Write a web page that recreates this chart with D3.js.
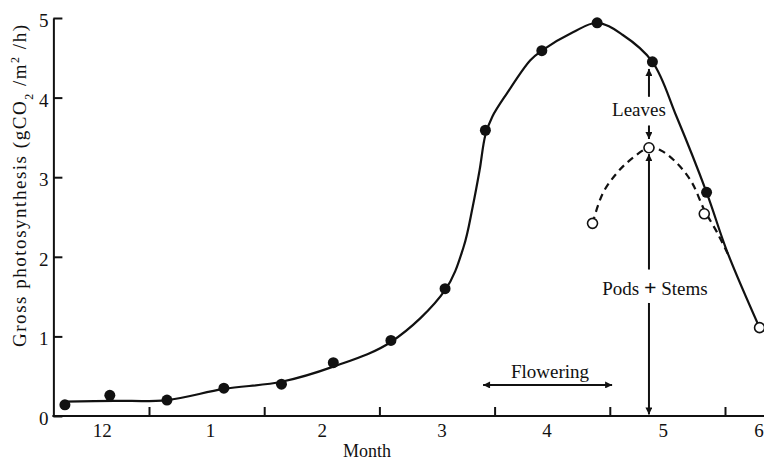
<!DOCTYPE html>
<html>
<head>
<meta charset="utf-8">
<script src="https://cdn.jsdelivr.net/npm/d3@7"></script>
<style>
  html, body { margin: 0; padding: 0; background: #fff; }
  svg { display: block; }
  text { font-family: "Liberation Serif", "DejaVu Serif", serif; fill: #111; }
</style>
</head>
<body>
<svg id="chart" width="764" height="463"></svg>
<script>
// ---- data (x in month units: 0 = boundary Dec/Jan, 1 = Jan/Feb, ...) ----
const monthBoundaries = [0, 1, 2, 3, 4, 5];
const monthLabels = ["12", "1", "2", "3", "4", "5", "6"];
const monthLabelPos = [-0.41, 0.53, 1.50, 2.54, 3.45, 4.46, 5.29];
const yTicks = [0, 1, 2, 3, 4, 5];

// whole-plant gross photosynthesis (filled points)
const totalT = [-0.73, -0.34, 0.156, 0.65, 1.15, 1.60, 2.10, 2.57, 2.92, 3.41, 3.89, 4.37, 4.84];
const totalV = [0.14, 0.26, 0.20, 0.35, 0.40, 0.67, 0.95, 1.60, 3.59, 4.59, 4.94, 4.45, 2.81];
// pods + stems (open points)
const podsT = [3.85, 4.34, 4.82, 5.30];
const podsV = [2.42, 3.37, 2.54, 1.11];

// fitted smooth curve, whole plant (solid)
const totalCurveT = [-0.73, -0.30, 0.156, 0.65, 1.15, 1.60, 2.10, 2.57, 2.73, 2.81, 2.87, 2.92, 2.98, 3.11, 3.31, 3.41, 3.68, 3.89, 4.11, 4.37, 4.58, 4.84, 5.02, 5.30];
const totalCurveV = [0.18, 0.19, 0.20, 0.34, 0.43, 0.62, 0.93, 1.58, 2.12, 2.63, 3.09, 3.53, 3.76, 4.06, 4.47, 4.59, 4.82, 4.94, 4.79, 4.45, 3.76, 2.81, 2.06, 1.11];
// fitted curve, pods + stems (dashed)
const podsCurveT = [3.85, 3.94, 4.06, 4.18, 4.34, 4.44, 4.58, 4.71, 4.82, 4.93, 5.03];
const podsCurveV = [2.42, 2.80, 3.05, 3.22, 3.37, 3.34, 3.18, 2.94, 2.59, 2.31, 2.02];

// ---- scales ----
const x = d3.scaleLinear().domain([0, 5]).range([149, 725]);
const y = d3.scaleLinear().domain([0, 5]).range([416, 18]);
const axisStartT = -0.83, axisEndT = 5.45;

const svg = d3.select("#chart");
const defs = svg.append("defs");
defs.append("marker")
  .attr("id", "arrow").attr("viewBox", "0 0 10 10")
  .attr("refX", 10).attr("refY", 5)
  .attr("markerWidth", 9).attr("markerHeight", 7)
  .attr("markerUnits", "userSpaceOnUse")
  .attr("orient", "auto-start-reverse")
  .append("path").attr("d", "M0,0 L10,5 L0,10 Z").attr("fill", "#111");

// ---- axes ----
const gx = svg.append("g").attr("transform", `translate(0,${y(0)})`)
  .call(d3.axisBottom(x).tickValues(monthBoundaries).tickSizeInner(-9).tickSizeOuter(0).tickFormat(""));
gx.select(".domain").remove();
gx.selectAll(".tick line").attr("stroke", "#111").attr("stroke-width", 2);

const gxl = svg.append("g").attr("transform", `translate(0,${y(0)})`)
  .call(d3.axisBottom(x).tickValues(monthLabelPos).tickSize(0).tickPadding(8)
    .tickFormat((d, i) => monthLabels[i]));
gxl.select(".domain").remove();
gxl.selectAll("text").attr("font-size", 19).attr("font-family", "Liberation Serif").attr("fill", "#111");

svg.append("line")
  .attr("x1", x(axisStartT) - 1).attr("x2", x(axisEndT))
  .attr("y1", y(0)).attr("y2", y(0))
  .attr("stroke", "#111").attr("stroke-width", 2);

const gy = svg.append("g").attr("transform", `translate(${x(axisStartT)},0)`)
  .call(d3.axisLeft(y).tickValues(yTicks).tickSizeInner(-9).tickSizeOuter(0).tickPadding(5)
    .tickFormat(d3.format("d")));
gy.select(".domain").attr("stroke", "#111").attr("stroke-width", 2);
gy.selectAll(".tick line").attr("stroke", "#111").attr("stroke-width", 2);
gy.selectAll("text").attr("font-size", 19).attr("font-family", "Liberation Serif").attr("fill", "#111").attr("dy", "0.45em");

// axis titles
svg.append("text")
  .attr("x", 367).attr("y", 457)
  .attr("text-anchor", "middle").attr("font-size", 18)
  .text("Month");

const yl = svg.append("text")
  .attr("transform", "translate(26,186) rotate(-90)")
  .attr("text-anchor", "middle").attr("font-size", 19)
  .attr("textLength", 322).attr("lengthAdjust", "spacing");
yl.append("tspan").text("Gross photosynthesis  (gCO");
yl.append("tspan").attr("baseline-shift", "sub").attr("font-size", 12).text("2");
yl.append("tspan").text(" /m");
yl.append("tspan").attr("baseline-shift", "super").attr("font-size", 12).text("2");
yl.append("tspan").text(" /h)");

// ---- curves ----
const line = d3.line().x(d => x(d[0])).y(d => y(d[1])).curve(d3.curveCatmullRom.alpha(0.5));
svg.append("path")
  .attr("d", line(totalCurveT.map((t, i) => [t, totalCurveV[i]])))
  .attr("fill", "none").attr("stroke", "#111").attr("stroke-width", 2.2);
svg.append("path")
  .attr("d", line(podsCurveT.map((t, i) => [t, podsCurveV[i]])))
  .attr("fill", "none").attr("stroke", "#111").attr("stroke-width", 2.2)
  .attr("stroke-dasharray", "7,5");

// ---- points ----
svg.append("g").selectAll("circle")
  .data(totalT.map((t, i) => [t, totalV[i]]))
  .join("circle")
  .attr("cx", d => x(d[0])).attr("cy", d => y(d[1])).attr("r", 5.5)
  .attr("fill", "#111");
svg.append("g").selectAll("circle")
  .data(podsT.map((t, i) => [t, podsV[i]]))
  .join("circle")
  .attr("cx", d => x(d[0])).attr("cy", d => y(d[1])).attr("r", 5)
  .attr("fill", "#fff").attr("stroke", "#111").attr("stroke-width", 1.6);

// ---- annotations ----
function arrow(t1, v1, t2, v2, both) {
  const l = svg.append("line")
    .attr("x1", x(t1)).attr("y1", y(v1)).attr("x2", x(t2)).attr("y2", y(v2))
    .attr("stroke", "#111").attr("stroke-width", 2)
    .attr("marker-end", "url(#arrow)");
  if (both) l.attr("marker-start", "url(#arrow)");
}
const annX = podsT[1];
// Leaves
arrow(annX, 4.01, annX, 4.36);
arrow(annX, 3.65, annX, 3.48);
svg.append("text").attr("x", x(annX) - 10).attr("y", 116)
  .attr("text-anchor", "middle").attr("font-size", 19).text("Leaves");
// Pods + Stems
arrow(annX, 1.84, annX, 3.29);
arrow(annX, 1.42, annX, 0.02);
const ps = svg.append("text").attr("x", x(annX) + 6).attr("y", 295)
  .attr("text-anchor", "middle").attr("font-size", 19);
ps.append("tspan").text("Pods ");
ps.append("tspan").attr("font-weight", "bold").attr("font-size", 22).text("+");
ps.append("tspan").text(" Stems");
// Flowering
arrow(2.90, 0.39, 4.02, 0.39, true);
svg.append("text").attr("x", 550).attr("y", 378)
  .attr("text-anchor", "middle").attr("font-size", 19).text("Flowering");
</script>
</body>
</html>
